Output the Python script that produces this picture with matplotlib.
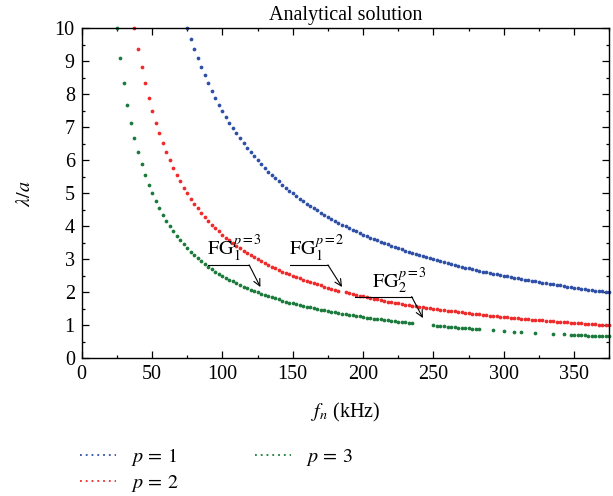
import matplotlib
matplotlib.use("Agg")
import matplotlib.pyplot as plt
from matplotlib.lines import Line2D
from matplotlib.ticker import MultipleLocator
import numpy as np

# ---- data ----
freq_khz = [
    25.0, 27.5, 30.0, 32.5, 35.0, 37.5, 40.0, 42.5, 45.0, 47.5,
    50.0, 52.5, 55.0, 57.5, 60.0, 62.5, 65.0, 67.5, 70.0, 72.5,
    75.0, 77.5, 80.0, 82.5, 85.0, 87.5, 90.0, 92.5, 95.0, 97.5,
    100.0, 102.5, 105.0, 107.5, 110.0, 112.5, 115.0, 117.5, 120.0, 122.5,
    125.0, 127.5, 130.0, 132.5, 135.0, 137.5, 140.0, 142.5, 145.0, 147.5,
    150.0, 152.5, 155.0, 157.5, 160.0, 162.5, 165.0, 167.5, 170.0, 172.5,
    175.0, 177.5, 180.0, 182.5, 185.0, 187.5, 190.0, 192.5, 195.0, 197.5,
    200.0, 202.5, 205.0, 207.5, 210.0, 212.5, 215.0, 217.5, 220.0, 222.5,
    225.0, 227.5, 230.0, 232.5, 235.0, 237.5, 240.0, 242.5, 245.0, 247.5,
    250.0, 252.5, 255.0, 257.5, 260.0, 262.5, 265.0, 267.5, 270.0, 272.5,
    275.0, 277.5, 280.0, 282.5, 285.0, 287.5, 290.0, 292.5, 295.0, 297.5,
    300.0, 302.5, 305.0, 307.5, 310.0, 312.5, 315.0, 317.5, 320.0, 322.5,
    325.0, 327.5, 330.0, 332.5, 335.0, 337.5, 340.0, 342.5, 345.0, 347.5,
    350.0, 352.5, 355.0, 357.5, 360.0, 362.5, 365.0, 367.5, 370.0, 372.5,
    375.0,
]

p1_lambda = [
    None, None, None, None, None, None, None, None, None, None,
    None, None, None, None, None, None, None, None, None, None,
    10.00, 9.68, 9.38, 9.09, 8.82, 8.57, 8.33, 8.11, 7.89, 7.69,
    7.50, 7.32, 7.14, 6.98, 6.82, 6.67, 6.52, 6.38, 6.25, 6.12,
    6.00, 5.88, 5.77, 5.66, 5.56, 5.45, 5.36, 5.26, 5.17, 5.08,
    5.00, 4.92, 4.84, 4.76, 4.69, 4.62, 4.55, 4.48, 4.41, 4.35,
    4.29, 4.23, 4.17, 4.11, 4.05, 4.00, 3.95, 3.90, 3.85, 3.80,
    3.75, 3.70, 3.66, 3.61, 3.57, 3.53, 3.49, 3.45, 3.41, 3.37,
    3.33, 3.30, 3.26, 3.23, 3.19, 3.16, 3.13, 3.09, 3.06, 3.03,
    3.00, 2.97, 2.94, 2.91, 2.88, 2.86, 2.83, 2.80, 2.78, 2.75,
    2.73, 2.70, 2.68, 2.65, 2.63, 2.61, 2.59, 2.56, 2.54, 2.52,
    2.50, 2.48, 2.46, 2.44, 2.42, 2.40, 2.38, 2.36, 2.34, 2.33,
    2.31, 2.29, 2.27, 2.26, 2.24, 2.22, 2.21, 2.19, 2.17, 2.16,
    2.14, 2.13, 2.11, 2.10, 2.08, 2.07, 2.05, 2.04, 2.03, 2.01,
    2.00,
]

p2_lambda = [
    None, None, None, None, None, 10.00, 9.38, 8.82, 8.33, 7.89,
    7.50, 7.14, 6.82, 6.52, 6.25, 6.00, 5.77, 5.56, 5.36, 5.17,
    5.00, 4.84, 4.69, 4.55, 4.41, 4.29, 4.17, 4.05, 3.95, 3.85,
    3.75, 3.66, 3.57, 3.49, 3.41, 3.33, 3.26, 3.19, 3.13, 3.06,
    3.00, 2.94, 2.88, 2.83, 2.78, 2.73, 2.68, 2.63, 2.59, 2.54,
    2.50, 2.46, 2.42, 2.38, 2.34, 2.31, 2.27, 2.24, 2.21, 2.17,
    2.14, 2.11, 2.08, 2.05, None, 2.00, 1.97, 1.95, 1.92, 1.90,
    1.88, 1.85, 1.83, 1.81, 1.79, 1.76, 1.74, 1.72, 1.70, 1.69,
    1.67, 1.65, 1.63, 1.61, 1.60, 1.58, 1.56, 1.55, 1.53, 1.52,
    1.50, 1.49, 1.47, 1.46, 1.44, 1.43, 1.42, 1.40, 1.39, 1.38,
    1.36, 1.35, 1.34, 1.33, 1.32, 1.30, 1.29, 1.28, 1.27, 1.26,
    1.25, 1.24, 1.23, 1.22, 1.21, 1.20, 1.19, 1.18, 1.17, 1.16,
    1.15, 1.15, 1.14, 1.13, 1.12, 1.11, 1.10, 1.09, 1.09, 1.08,
    1.07, 1.06, 1.06, 1.05, 1.04, 1.03, 1.03, 1.02, 1.01, 1.01,
    1.00,
]

p3_lambda = [
    10.00, 9.09, 8.33, 7.69, 7.14, 6.67, 6.25, 5.88, 5.56, 5.26,
    5.00, 4.76, 4.55, 4.35, 4.17, 4.00, 3.85, 3.70, 3.57, 3.45,
    3.33, 3.23, 3.13, 3.03, 2.94, 2.86, 2.78, 2.70, 2.63, 2.56,
    2.50, 2.44, 2.38, 2.33, 2.27, 2.22, 2.17, 2.13, 2.08, 2.04,
    2.00, 1.96, 1.92, 1.89, 1.85, 1.82, 1.79, 1.75, 1.72, 1.69,
    1.67, 1.64, 1.61, 1.59, 1.56, 1.54, 1.52, 1.49, 1.47, 1.45,
    1.43, 1.41, 1.39, 1.37, 1.35, 1.33, 1.32, 1.30, 1.28, 1.27,
    1.25, 1.23, 1.22, 1.20, 1.19, 1.18, 1.16, 1.15, 1.14, 1.12,
    1.11, 1.10, 1.09, 1.08, 1.06, None, None, None, None, None,
    1.00, 0.99, 0.98, 0.97, 0.96, 0.95, 0.94, 0.93, 0.93, 0.92,
    0.91, 0.90, 0.89, 0.88, None, None, None, 0.85, None, None,
    0.83, None, None, 0.81, None, 0.80, None, None, None, 0.78,
    None, None, None, None, 0.75, None, None, 0.73, None, 0.72,
    0.71, 0.71, 0.70, 0.70, 0.69, 0.69, 0.68, 0.68, 0.68, 0.67,
    0.67,
]

series_labels = [r"$p\,=\,1$", r"$p\,=\,2$", r"$p\,=\,3$"]
series_colors = ["#2f4fa6", "#ee2a2a", "#1b7a3c"]

x_ticks = [0, 50, 100, 150, 200, 250, 300, 350]
y_ticks = [0, 1, 2, 3, 4, 5, 6, 7, 8, 9, 10]

annotations = [
    # label, text position, line start, line end, arrow tip
    (r"$\mathrm{FG}_1^{p=3}$", (89, 2.86), (90, 2.83), (119, 2.83), (127, 2.16)),
    (r"$\mathrm{FG}_1^{p=2}$", (147, 2.86), (148, 2.83), (175, 2.83), (185, 2.16)),
    (r"$\mathrm{FG}_2^{p=3}$", (206, 1.9), (194, 1.87), (234.5, 1.87), (242.5, 1.22)),
]

# ---- style ----
plt.rcParams["font.family"] = ["Liberation Serif", "DejaVu Serif"]
plt.rcParams["mathtext.fontset"] = "stix"
FS = 14.5

fig = plt.figure(figsize=(6.13, 4.96), dpi=100)
ax = fig.add_axes([0.1333, 0.2776, 0.8607, 0.6654])

def to_arr(v):
    return np.array([np.nan if a is None else a for a in v], dtype=float)

fx = np.array(freq_khz, dtype=float)
for ys, col in zip([p1_lambda, p2_lambda, p3_lambda], series_colors):
    ax.plot(fx, to_arr(ys), linestyle="none", marker="o", markersize=2.7,
            markeredgewidth=0, color=col, clip_on=False)

ax.set_xlim(0, 375)
ax.set_ylim(0, 10)
ax.set_xticks(x_ticks)
ax.set_yticks(y_ticks)
ax.xaxis.set_minor_locator(MultipleLocator(25))
ax.yaxis.set_minor_locator(MultipleLocator(0.5))
ax.tick_params(which="both", direction="in", top=True, right=True,
               labelsize=FS, width=0.9, colors="black")
ax.tick_params(which="major", length=5, pad=5)
ax.tick_params(which="minor", length=2.5)
for s in ax.spines.values():
    s.set_linewidth(1.0)

ax.set_title("Analytical solution", fontsize=FS, pad=6)
ax.set_xlabel(r"$f_n$ (kHz)", fontsize=FS, labelpad=12)
ax.set_ylabel(r"$\lambda/a$", fontsize=FS, labelpad=14)

for label, tpos, l0, l1, tip in annotations:
    ax.text(tpos[0], tpos[1], label, fontsize=FS, ha="left", va="bottom")
    ax.plot([l0[0], l1[0]], [l0[1], l1[1]], color="black", lw=0.8)
    ax.annotate("", xy=tip, xytext=l1,
                arrowprops=dict(arrowstyle="->", lw=0.8, color="black",
                                shrinkA=0, shrinkB=0, mutation_scale=12))

handles = [Line2D([], [], color=c, linestyle=(0, (1, 2.2)), lw=1.3)
           for c in series_colors]
fig.legend(handles, series_labels, loc="upper left",
           bbox_to_anchor=(0.1305, 0.101), ncol=2, frameon=False,
           fontsize=FS, borderpad=0, borderaxespad=0, handlelength=1.8,
           handletextpad=0.75, columnspacing=3.75, labelspacing=0.25)

fig.savefig("out.png", dpi=100)
